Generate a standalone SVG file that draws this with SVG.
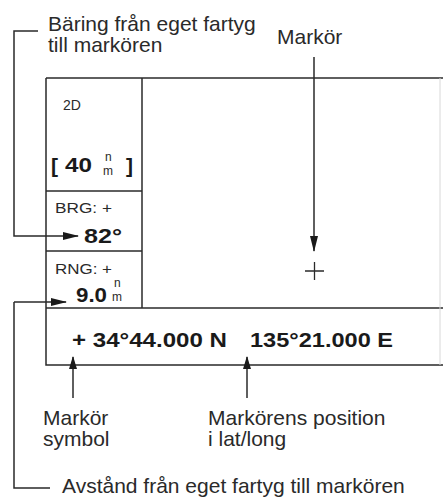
<svg xmlns="http://www.w3.org/2000/svg" width="443" height="499" viewBox="0 0 443 499">
<style>
.ln{fill:none;stroke:#2a2a2a;stroke-width:1.5}
.lbl{font-family:"Liberation Sans",Arial,sans-serif;font-size:21px;fill:#2a2a2a}
.sm{font-family:"Liberation Sans",Arial,sans-serif;font-size:14px;fill:#2a2a2a}
.big{font-family:"Liberation Sans",Arial,sans-serif;font-size:21px;font-weight:bold;fill:#1a1a1a}
.un{font-family:"Liberation Sans",Arial,sans-serif;font-size:12px;fill:#2a2a2a}
</style>
<defs>
<marker id="ah" markerWidth="16" markerHeight="10" refX="15" refY="5" orient="auto" markerUnits="userSpaceOnUse">
<path d="M0,1 L16,5 L0,9 Z" fill="#1a1a1a"/>
</marker>
<marker id="ahs" markerWidth="13" markerHeight="9" refX="12" refY="4.5" orient="auto" markerUnits="userSpaceOnUse">
<path d="M0,0.5 L13,4.5 L0,8.5 Z" fill="#1a1a1a"/>
</marker>
</defs>
<g id="display">
<path class="ln" d="M46 78 H443"/>
<path class="ln" d="M46 78 V365 H443"/>
<path class="ln" d="M142 78 V308"/>
<path class="ln" d="M46 191 H142"/>
<path class="ln" d="M46 251 H142"/>
<path class="ln" d="M46 308 H443"/>
<path d="M440 78 V365" fill="none" stroke="#d8d8d8" stroke-width="1"/>
</g>
<g id="panel-2d">
<text class="sm" x="63" y="110" font-size="12">2D</text>
<text class="big" x="51" y="173" font-size="23">[</text>
<text class="big" x="65" y="172" textLength="27" lengthAdjust="spacingAndGlyphs">40</text>
<text class="un" x="105" y="161">n</text>
<text class="un" x="103" y="175">m</text>
<text class="big" x="126" y="173" font-size="23">]</text>
</g>
<g id="panel-brg">
<text class="sm" x="55" y="213" textLength="57" lengthAdjust="spacingAndGlyphs">BRG: +</text>
<text class="big" x="84" y="243" textLength="38" lengthAdjust="spacingAndGlyphs">82°</text>
</g>
<g id="panel-rng">
<text class="sm" x="55" y="274" textLength="57" lengthAdjust="spacingAndGlyphs">RNG: +</text>
<text class="big" x="76" y="302" textLength="31" lengthAdjust="spacingAndGlyphs">9.0</text>
<text class="un" x="114" y="287">n</text>
<text class="un" x="112" y="301">m</text>
</g>
<g id="position">
<text class="big" x="72" y="347" font-size="22" textLength="155" lengthAdjust="spacingAndGlyphs">+ 34°44.000 N</text>
<text class="big" x="250" y="347" font-size="22" textLength="143" lengthAdjust="spacingAndGlyphs">135°21.000 E</text>
</g>
<g id="cursor">
<path d="M305 271 H324 M314.5 262 V280" fill="none" stroke="#2a2a2a" stroke-width="1.3"/>
</g>
<g id="label-bearing">
<text class="lbl" x="48" y="31">Bäring från eget fartyg</text>
<text class="lbl" x="48" y="52">till markören</text>
</g>
<g id="label-cursor">
<text class="lbl" x="277" y="44">Markör</text>
</g>
<g id="label-symbol">
<text class="lbl" x="43" y="425">Markör</text>
<text class="lbl" x="43" y="446">symbol</text>
</g>
<g id="label-pos">
<text class="lbl" x="208" y="425">Markörens position</text>
<text class="lbl" x="208" y="446">i lat/long</text>
</g>
<g id="label-range">
<text class="lbl" x="62" y="493">Avstånd från eget fartyg till markören</text>
</g>
<g id="connectors">
<path class="ln" d="M38 31 H14 V236 H78" marker-end="url(#ah)"/>
<path class="ln" d="M14 302 H66" marker-end="url(#ah)"/>
<path class="ln" d="M14 302 V488 H50"/>
<path class="ln" d="M314 57 V251" marker-end="url(#ah)"/>
<path class="ln" d="M73 398 V357" marker-end="url(#ahs)"/>
<path class="ln" d="M247 398 V357" marker-end="url(#ahs)"/>
</g>
</svg>
